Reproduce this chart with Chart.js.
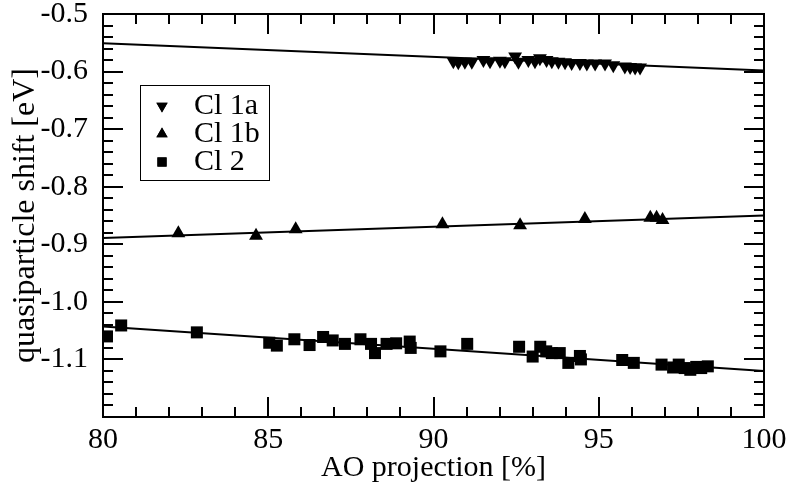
<!DOCTYPE html>
<html>
<head>
<meta charset="utf-8">
<script src="https://cdn.jsdelivr.net/npm/chart.js@4/dist/chart.umd.min.js"></script>
<style>
  html, body { margin: 0; padding: 0; background: #fff; }
  #wrap { width: 789px; height: 488px; }
</style>
</head>
<body>
<div id="wrap"><canvas id="chart" width="789" height="488"></canvas></div>
<script>
// Cl 1a (down triangles)
const cl1aX = [90.60, 90.75, 90.95, 91.16, 91.51, 91.71, 92.01, 92.16, 92.47, 92.57, 92.87, 93.07, 93.22, 93.42,
               93.58, 93.78, 93.98, 94.18, 94.43, 94.64, 94.89, 95.19, 95.44, 95.79, 95.95, 96.10, 96.25];
const cl1aY = [-0.582, -0.584, -0.583, -0.583, -0.580, -0.582, -0.581, -0.582, -0.574, -0.583, -0.580, -0.582, -0.577, -0.580,
               -0.582, -0.583, -0.584, -0.585, -0.585, -0.586, -0.586, -0.586, -0.589, -0.591, -0.592, -0.593, -0.593];

// Cl 1b (up triangles)
const cl1bX = [82.28, 84.63, 85.83, 90.27, 92.62, 94.58, 96.56, 96.75, 96.93];
const cl1bY = [-0.881, -0.885, -0.874, -0.865, -0.867, -0.856, -0.854, -0.854, -0.858];

// Cl 2 (squares)
const cl2X = [80.12, 80.55, 82.84, 85.03, 85.26, 85.79, 86.25, 86.66, 86.95, 87.32, 87.79, 88.11, 88.23, 88.58,
              88.87, 89.28, 89.31, 90.21, 91.02, 92.59, 93.00, 93.23, 93.41, 93.58, 93.82, 94.08, 94.43, 94.46,
              95.71, 96.06, 96.90, 97.25, 97.42, 97.60, 97.77, 97.95, 98.10, 98.30];
const cl2Y = [-1.060, -1.041, -1.053, -1.071, -1.076, -1.065, -1.075, -1.061, -1.067, -1.073, -1.065, -1.073, -1.089, -1.073,
              -1.072, -1.069, -1.080, -1.086, -1.073, -1.078, -1.095, -1.078, -1.086, -1.089, -1.089, -1.106, -1.094, -1.100,
              -1.101, -1.106, -1.109, -1.114, -1.109, -1.115, -1.118, -1.113, -1.115, -1.112];

// linear fits, evaluated at the axis ends
const fitX = [80, 100];
const fit1a = [-0.551, -0.598];
const fit1b = [-0.889, -0.850];
const fit2 = [-1.043, -1.120];

const xTicks = [80, 85, 90, 95, 100];
const yTicks = [-0.5, -0.6, -0.7, -0.8, -0.9, -1.0, -1.1];

const serif = "'Liberation Serif', 'DejaVu Serif', serif";

function pts(xs, ys) {
  return xs.map((x, i) => ({ x: x, y: ys[i] }));
}

// frame and inward ticks on all four sides, like the original plot
const frameTicks = {
  id: 'frameTicks',
  afterDraw(chart) {
    const ctx = chart.ctx;
    const a = chart.chartArea;
    const xs = chart.scales.x, ys = chart.scales.y;
    ctx.save();
    ctx.strokeStyle = '#000';
    ctx.lineWidth = 2;
    ctx.beginPath();
    for (let v = 80; v <= 100; v++) {
      const p = Math.round(xs.getPixelForValue(v));
      const len = v % 5 === 0 ? 20 : 10;
      ctx.moveTo(p, a.bottom); ctx.lineTo(p, a.bottom - len);
      ctx.moveTo(p, a.top); ctx.lineTo(p, a.top + len);
    }
    for (let k = 0; k <= 35; k++) {
      const v = -0.5 - k * 0.02;
      const p = Math.round(ys.getPixelForValue(v));
      const len = k % 5 === 0 ? 20 : 10;
      ctx.moveTo(a.left, p); ctx.lineTo(a.left + len, p);
      ctx.moveTo(a.right, p); ctx.lineTo(a.right - len, p);
    }
    ctx.stroke();
    ctx.strokeRect(a.left, a.top, a.right - a.left, a.bottom - a.top);
    ctx.restore();
  }
};

// legend box inside the plot
const boxLegend = {
  id: 'boxLegend',
  afterDraw(chart) {
    const ctx = chart.ctx;
    ctx.save();
    ctx.fillStyle = '#fff';
    ctx.fillRect(140, 85, 129, 95);
    ctx.strokeStyle = '#000';
    ctx.lineWidth = 1;
    ctx.strokeRect(140.5, 85.5, 129, 95);
    ctx.font = '30px ' + serif;
    ctx.textBaseline = 'middle';
    ctx.fillStyle = '#000';
    [0, 1, 2].forEach(i => {
      const ds = chart.data.datasets[i];
      const y = 105 + i * 28;
      Chart.helpers.drawPoint(ctx, {
        pointStyle: ds.pointStyle,
        rotation: ds.pointRotation || 0,
        radius: 6.5,
        borderWidth: 0
      }, 162, y + 1);
      ctx.fill();
      ctx.fillText(ds.label, 194, y + 1);
    });
    ctx.restore();
  }
};

const fitStyle = {
  showLine: true, pointRadius: 0, borderColor: '#000', borderWidth: 2, fill: false
};

new Chart(document.getElementById('chart').getContext('2d'), {
  type: 'scatter',
  data: {
    datasets: [
      { label: 'Cl 1a', data: pts(cl1aX, cl1aY), pointStyle: 'triangle', pointRotation: 180,
        pointRadius: 8, backgroundColor: '#000', borderColor: '#000', borderWidth: 0 },
      { label: 'Cl 1b', data: pts(cl1bX, cl1bY), pointStyle: 'triangle',
        pointRadius: 8, backgroundColor: '#000', borderColor: '#000', borderWidth: 0 },
      { label: 'Cl 2', data: pts(cl2X, cl2Y), pointStyle: 'rect',
        pointRadius: 8.5, backgroundColor: '#000', borderColor: '#000', borderWidth: 0 },
      Object.assign({ label: 'fit 1a', data: pts(fitX, fit1a) }, fitStyle),
      Object.assign({ label: 'fit 1b', data: pts(fitX, fit1b) }, fitStyle),
      Object.assign({ label: 'fit 2', data: pts(fitX, fit2) }, fitStyle)
    ]
  },
  options: {
    responsive: false,
    animation: false,
    layout: { padding: { left: 0, right: 25, top: 14, bottom: 0 } },
    plugins: { legend: { display: false }, tooltip: { enabled: false } },
    scales: {
      x: {
        type: 'linear', min: 80, max: 100,
        afterFit: s => { s.height = 71; s.paddingLeft = 0; s.paddingRight = 0; },
        afterBuildTicks: s => { s.ticks = xTicks.map(v => ({ value: v })); },
        grid: { display: false },
        border: { display: false },
        ticks: { color: '#000', font: { family: serif, size: 30 }, padding: -3, maxRotation: 0 },
        title: { display: true, text: 'AO projection [%]', color: '#000',
                 font: { family: serif, size: 30 }, padding: { top: 0, bottom: 2 } }
      },
      y: {
        type: 'linear', min: -1.2, max: -0.5,
        afterFit: s => { s.width = 103; s.paddingTop = 0; s.paddingBottom = 0; },
        afterBuildTicks: s => { s.ticks = yTicks.map(v => ({ value: v })); },
        grid: { display: false },
        border: { display: false },
        ticks: { color: '#000', font: { family: serif, size: 30 }, padding: 7,
                 callback: v => v.toFixed(1) },
        title: { display: true, text: 'quasiparticle shift [eV]', color: '#000',
                 font: { family: serif, size: 32 }, padding: { top: 6, bottom: 0 } }
      }
    }
  },
  plugins: [frameTicks, boxLegend]
});
</script>
</body>
</html>
